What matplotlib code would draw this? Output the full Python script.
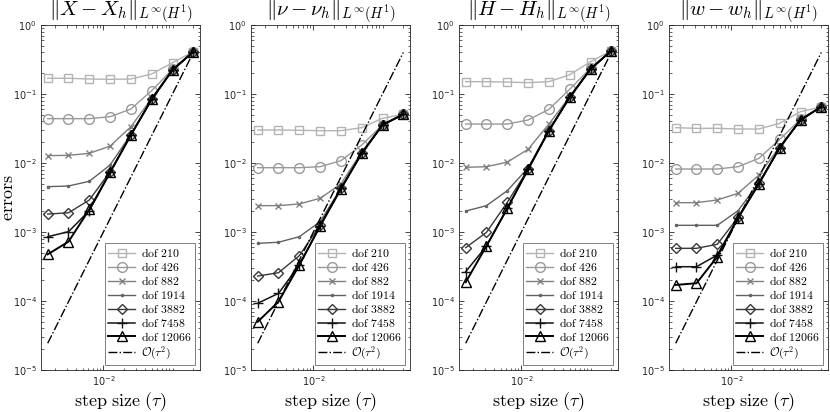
import matplotlib
matplotlib.use("Agg")
import matplotlib.pyplot as plt
from matplotlib.font_manager import FontProperties
from matplotlib.ticker import FixedLocator, NullFormatter

# step sizes (ascending) and reference line O(tau^2)
tau = [0.0015625, 0.003125, 0.00625, 0.0125, 0.025, 0.05, 0.1, 0.2]
ref = [2.44e-5, 9.77e-5, 3.91e-4, 1.56e-3, 6.25e-3, 0.025, 0.1, 0.4]

dofs = [210, 426, 882, 1914, 3882, 7458, 12066]

# errors, one row per dof
err_X = [
    [0.169, 0.169, 0.165, 0.163, 0.165, 0.195, 0.284, 0.41],
    [0.0439, 0.0439, 0.0439, 0.0469, 0.0606, 0.112, 0.228, 0.41],
    [0.0128, 0.0129, 0.0138, 0.0176, 0.0336, 0.0867, 0.223, 0.41],
    [0.00454, 0.00464, 0.00543, 0.00935, 0.026, 0.0838, 0.223, 0.41],
    [0.00182, 0.0019, 0.00291, 0.00748, 0.0255, 0.0838, 0.223, 0.41],
    [0.000855, 0.00101, 0.00204, 0.0073, 0.0255, 0.0838, 0.223, 0.41],
    [0.000475, 0.000724, 0.00212, 0.0073, 0.0255, 0.0838, 0.223, 0.41],
]
err_nu = [
    [0.0301, 0.0301, 0.0298, 0.0294, 0.0294, 0.0325, 0.0445, 0.0508],
    [0.00855, 0.00855, 0.00855, 0.00884, 0.0108, 0.0182, 0.0356, 0.0508],
    [0.00241, 0.00241, 0.00255, 0.00308, 0.00496, 0.0145, 0.0356, 0.0508],
    [0.000686, 0.00071, 0.000855, 0.00141, 0.0043, 0.0138, 0.0356, 0.0508],
    [0.00023, 0.000257, 0.000454, 0.00126, 0.0043, 0.0138, 0.0356, 0.0508],
    [0.0000927, 0.000129, 0.000332, 0.00122, 0.0043, 0.0138, 0.0356, 0.0508],
    [0.00005, 0.0000977, 0.000332, 0.00122, 0.0042, 0.0138, 0.0356, 0.0508],
]
err_H = [
    [0.151, 0.151, 0.149, 0.146, 0.151, 0.19, 0.294, 0.424],
    [0.0367, 0.0367, 0.0367, 0.042, 0.060, 0.117, 0.236, 0.424],
    [0.00867, 0.00884, 0.0103, 0.0158, 0.0367, 0.0914, 0.230, 0.424],
    [0.00201, 0.00241, 0.00397, 0.0085, 0.030, 0.0914, 0.230, 0.424],
    [0.000593, 0.00099, 0.00269, 0.0081, 0.0294, 0.0896, 0.230, 0.424],
    [0.000266, 0.000627, 0.0022, 0.0081, 0.0294, 0.0896, 0.230, 0.424],
    [0.000187, 0.00063, 0.0022, 0.0081, 0.0294, 0.0896, 0.230, 0.424],
]
err_w = [
    [0.0325, 0.0318, 0.0318, 0.0311, 0.0311, 0.0376, 0.0554, 0.0655],
    [0.00818, 0.00818, 0.00818, 0.00884, 0.0117, 0.022, 0.043, 0.0655],
    [0.00266, 0.00266, 0.00291, 0.00364, 0.0067, 0.0172, 0.042, 0.0655],
    [0.00125, 0.00125, 0.00125, 0.00204, 0.00519, 0.0167, 0.042, 0.0655],
    [0.00058, 0.00058, 0.000664, 0.00163, 0.00508, 0.0167, 0.042, 0.0655],
    [0.000314, 0.000314, 0.000464, 0.0016, 0.005, 0.0167, 0.042, 0.0655],
    [0.000171, 0.000181, 0.000438, 0.0016, 0.005, 0.0167, 0.042, 0.0655],
]

titles = [r"$\|X-X_h\|_{L^\infty(H^1)}$", r"$\|\nu-\nu_h\|_{L^\infty(H^1)}$",
          r"$\|H-H_h\|_{L^\infty(H^1)}$", r"$\|w-w_h\|_{L^\infty(H^1)}$"]
panels = [err_X, err_nu, err_H, err_w]

# style per dof: (gray, marker, markersize, linewidth)
styles = [
    ("0.70", "s", 5.5, 1.0),
    ("0.60", "o", 7.0, 1.0),
    ("0.50", "x", 4.0, 1.0),
    ("0.38", ".", 3.0, 1.0),
    ("0.22", "D", 5.0, 1.0),
    ("0.08", "+", 6.5, 1.1),
    ("0.00", "^", 6.5, 1.4),
]

axcol = "0.15"
lefts = [41, 251, 459, 669]

fig = plt.figure(figsize=(8.3, 4.12), dpi=100)
leg_prop = FontProperties(size=8.5, math_fontfamily="cm")

for k in range(4):
    ax = fig.add_axes([lefts[k] / 830, 42 / 412, 159 / 830, 345 / 412])
    for i in range(len(dofs)):
        c, m, ms, lw = styles[i]
        ax.plot(tau, panels[k][i], color=c, marker=m, markersize=ms, lw=lw,
                markerfacecolor="none", markeredgecolor=c, markeredgewidth=1.0,
                label=r"$\mathrm{dof\ %d}$" % dofs[i])
    ax.plot(tau, ref, color="k", ls="-.", lw=1.0, label=r"$\mathcal{O}(\tau^2)$")

    ax.set_xscale("log")
    ax.set_yscale("log")
    ax.set_xlim(0.00125, 0.25)
    ax.set_ylim(1e-5, 1e0)
    ax.set_xticks([1e-2])
    ax.xaxis.set_minor_locator(FixedLocator(
        [j * 1e-3 for j in range(2, 10)] + [j * 1e-2 for j in range(2, 10)] + [0.1, 0.2]))
    ax.xaxis.set_minor_formatter(NullFormatter())
    ax.tick_params(which="both", direction="in", top=True, right=True,
                   colors=axcol, labelsize=7, pad=3)
    ax.tick_params(which="major", length=3.5, width=0.6)
    ax.tick_params(which="minor", length=1.8, width=0.5)
    for s in ax.spines.values():
        s.set_color(axcol)
        s.set_linewidth(0.6)

    ax.set_title(titles[k], fontsize=15, math_fontfamily="cm", pad=2)
    ax.set_xlabel(r"$\mathrm{step\ size}\ (\tau)$", fontsize=13,
                  math_fontfamily="cm", labelpad=2)
    if k == 0:
        ax.set_ylabel(r"$\mathrm{errors}$", fontsize=13, math_fontfamily="cm")
        ax.yaxis.set_label_coords(-0.15, 0.5)

    leg = ax.legend(loc="lower right", prop=leg_prop, fancybox=False,
                    framealpha=1, edgecolor="0.5", handlelength=2.3,
                    labelspacing=0.08, borderpad=0.3, handletextpad=0.5,
                    borderaxespad=0.4)
    leg.get_frame().set_linewidth(0.7)

fig.savefig("out.png", dpi=100)
